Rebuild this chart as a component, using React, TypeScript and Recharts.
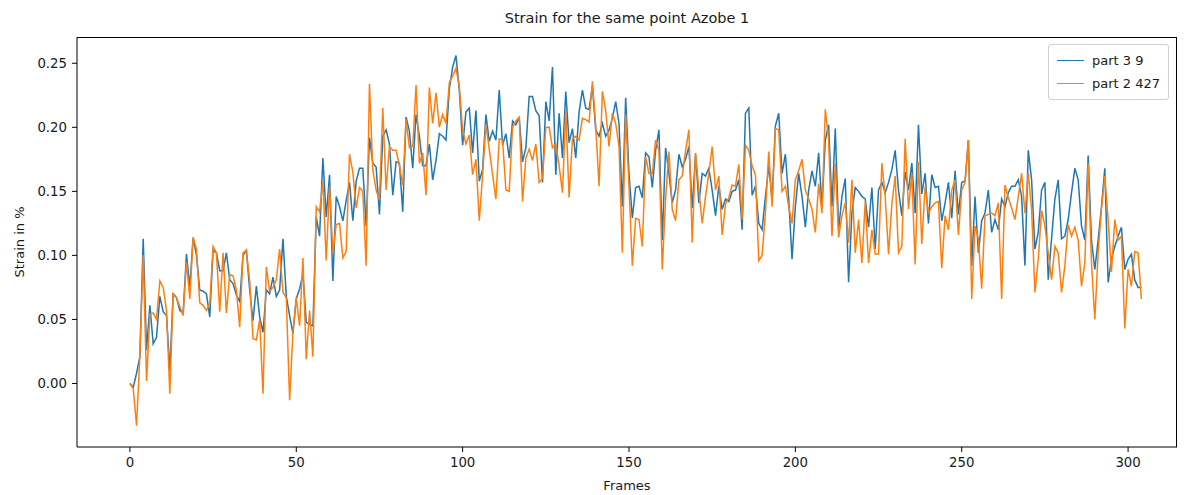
import React from "react";
import { LineChart, Line, XAxis, YAxis } from "recharts";

// strain per frame
const part39 = [
  0.0, -0.003, 0.008, 0.021, 0.113, 0.026, 0.061, 0.031, 0.036, 0.068,
  0.056, 0.053, 0.01, 0.07, 0.067, 0.057, 0.055, 0.101, 0.075, 0.114,
  0.1, 0.073, 0.072, 0.07, 0.052, 0.104, 0.102, 0.088, 0.088, 0.102,
  0.081, 0.078, 0.069, 0.064, 0.1, 0.104, 0.073, 0.049, 0.076, 0.052,
  0.04, 0.073, 0.07, 0.083, 0.068, 0.073, 0.113, 0.068, 0.053, 0.039,
  0.066, 0.074, 0.085, 0.048, 0.046, 0.045, 0.13, 0.115, 0.176, 0.13,
  0.163, 0.08, 0.146, 0.138, 0.127, 0.143, 0.157, 0.127, 0.158, 0.168,
  0.168, 0.123, 0.192, 0.172, 0.169, 0.132, 0.193, 0.198, 0.187, 0.147,
  0.173, 0.172, 0.134, 0.208, 0.197, 0.168, 0.21, 0.193, 0.17, 0.17,
  0.187, 0.159, 0.174, 0.195, 0.193, 0.19, 0.23, 0.247, 0.256, 0.229,
  0.186, 0.212, 0.215, 0.18, 0.213, 0.158, 0.167, 0.21, 0.189, 0.197,
  0.19, 0.229, 0.186, 0.195, 0.176, 0.205, 0.202, 0.208, 0.173, 0.184,
  0.224, 0.224, 0.213, 0.209, 0.157, 0.22, 0.205, 0.247, 0.163, 0.211,
  0.176, 0.228, 0.188, 0.199, 0.176, 0.212, 0.229, 0.215, 0.214, 0.232,
  0.198, 0.193, 0.203, 0.193, 0.198, 0.207, 0.22, 0.203, 0.138, 0.223,
  0.164, 0.129, 0.153, 0.154, 0.145, 0.18, 0.177, 0.153, 0.182, 0.198,
  0.112, 0.184, 0.164, 0.141, 0.151, 0.179, 0.169, 0.175, 0.185, 0.137,
  0.179, 0.141, 0.164, 0.162, 0.168, 0.151, 0.131, 0.154, 0.136, 0.144,
  0.142, 0.15, 0.151, 0.159, 0.12, 0.211, 0.215, 0.147, 0.154, 0.125,
  0.12, 0.146, 0.17, 0.144, 0.201, 0.211, 0.164, 0.179, 0.144, 0.097,
  0.138, 0.164, 0.146, 0.122, 0.151, 0.166, 0.154, 0.18, 0.138, 0.19,
  0.202, 0.138, 0.199, 0.12, 0.146, 0.16, 0.079, 0.133, 0.153, 0.15,
  0.146, 0.144, 0.122, 0.153, 0.105, 0.151, 0.157, 0.149, 0.157, 0.167,
  0.182, 0.151, 0.131, 0.165, 0.151, 0.172, 0.133, 0.202, 0.148, 0.164,
  0.125, 0.163, 0.153, 0.154, 0.127, 0.141, 0.157, 0.129, 0.166, 0.132,
  0.157, 0.158, 0.19, 0.092, 0.146, 0.102, 0.127, 0.133, 0.151, 0.118,
  0.128, 0.12, 0.144, 0.138, 0.149, 0.154, 0.154, 0.159, 0.146, 0.092,
  0.182, 0.159, 0.105, 0.118, 0.151, 0.157, 0.081, 0.113, 0.144, 0.159,
  0.113, 0.115, 0.128, 0.149, 0.168, 0.159, 0.123, 0.112, 0.178, 0.112,
  0.089, 0.112, 0.138, 0.168, 0.079, 0.097, 0.107, 0.115, 0.122, 0.089,
  0.097, 0.101, 0.081, 0.075, 0.075,
];

const part2427 = [
  0.0, -0.004, -0.033, 0.022, 0.1, 0.002, 0.054, 0.055, 0.05, 0.08,
  0.075, 0.057, -0.008, 0.07, 0.067, 0.06, 0.053, 0.095, 0.066, 0.114,
  0.105, 0.063, 0.061, 0.057, 0.062, 0.107, 0.102, 0.056, 0.102, 0.055,
  0.085, 0.084, 0.073, 0.044, 0.102, 0.104, 0.08, 0.035, 0.034, 0.05,
  -0.008, 0.091, 0.072, 0.075, 0.081, 0.105, 0.071, 0.067, -0.013, 0.04,
  0.067, 0.045, 0.098, 0.019, 0.057, 0.021, 0.138, 0.134, 0.158, 0.096,
  0.154, 0.102, 0.124, 0.125, 0.098, 0.103, 0.179, 0.165, 0.137, 0.153,
  0.15, 0.092, 0.234, 0.167, 0.151, 0.143, 0.215, 0.151, 0.185, 0.182,
  0.182, 0.17, 0.155, 0.206, 0.184, 0.185, 0.233, 0.172, 0.18, 0.147,
  0.231, 0.203, 0.227, 0.2, 0.21, 0.203, 0.235, 0.24, 0.246, 0.232,
  0.198, 0.187, 0.194, 0.163, 0.175, 0.127, 0.163, 0.202, 0.183, 0.163,
  0.144, 0.191, 0.19, 0.151, 0.15, 0.2, 0.205, 0.208, 0.142, 0.176,
  0.183, 0.174, 0.187, 0.157, 0.16, 0.2, 0.2, 0.184, 0.187, 0.17,
  0.149, 0.213, 0.145, 0.191, 0.193, 0.19, 0.207, 0.206, 0.204, 0.236,
  0.201, 0.154, 0.228, 0.213, 0.185, 0.211, 0.203, 0.185, 0.102, 0.21,
  0.154, 0.092, 0.129, 0.128, 0.107, 0.177, 0.164, 0.164, 0.19, 0.182,
  0.089, 0.144, 0.181, 0.136, 0.127, 0.159, 0.162, 0.182, 0.198, 0.11,
  0.18, 0.151, 0.125, 0.146, 0.164, 0.185, 0.151, 0.162, 0.116, 0.14,
  0.145, 0.155, 0.154, 0.171, 0.128, 0.186, 0.182, 0.17, 0.163, 0.096,
  0.1, 0.133, 0.181, 0.138, 0.199, 0.198, 0.15, 0.154, 0.138, 0.125,
  0.159, 0.166, 0.175, 0.151, 0.144, 0.136, 0.118, 0.156, 0.133, 0.214,
  0.19, 0.115, 0.172, 0.114, 0.131, 0.141, 0.11, 0.159, 0.102, 0.128,
  0.094, 0.142, 0.094, 0.12, 0.101, 0.101, 0.172, 0.146, 0.101, 0.14,
  0.162, 0.102, 0.107, 0.191, 0.136, 0.164, 0.093, 0.173, 0.109, 0.154,
  0.133, 0.138, 0.141, 0.142, 0.09, 0.131, 0.12, 0.151, 0.159, 0.116,
  0.151, 0.157, 0.19, 0.066, 0.123, 0.113, 0.074, 0.131, 0.132, 0.133,
  0.131, 0.141, 0.066, 0.155, 0.145, 0.137, 0.128, 0.146, 0.164, 0.133,
  0.164, 0.136, 0.071, 0.097, 0.135, 0.123, 0.102, 0.081, 0.107, 0.102,
  0.071, 0.092, 0.124, 0.115, 0.122, 0.112, 0.076, 0.094, 0.172, 0.094,
  0.05, 0.102, 0.136, 0.162, 0.128, 0.087, 0.128, 0.112, 0.115, 0.043,
  0.089, 0.076, 0.103, 0.102, 0.066,
];

const xTicks = [0, 50, 100, 150, 200, 250, 300];
const yTicks = [0, 0.05, 0.1, 0.15, 0.2, 0.25];
const seriesNames = ["part 3 9", "part 2 427"];

const data = part39.map((v, i) => ({ frame: i, a: v, b: part2427[i] }));

const FONT = "DejaVu Sans, sans-serif";
const BLUE = "#1f77b4";
const ORANGE = "#ff7f0e";

// plot box in page pixels
const PLOT = { left: 77, top: 37, right: 1177, bottom: 447 };

function LegendBox() {
  const colors = [BLUE, ORANGE];
  return (
    <div
      style={{
        position: "absolute",
        left: 1048,
        top: 44,
        border: "1px solid #d0d0d0",
        borderRadius: 3,
        background: "rgba(255,255,255,0.8)",
        padding: "4px 8px 4px 8px",
        fontSize: 13,
        lineHeight: "23px",
      }}
    >
      {seriesNames.map((name, i) => (
        <div key={name} style={{ display: "flex", alignItems: "center" }}>
          <span
            style={{
              display: "inline-block",
              width: 27,
              height: 0,
              borderTop: `1.5px solid ${colors[i]}`,
              marginRight: 8,
            }}
          />
          {name}
        </div>
      ))}
    </div>
  );
}

export default function App() {
  return (
    <div
      style={{
        position: "absolute",
        left: 0,
        top: 0,
        width: 1190,
        height: 495,
        background: "#fff",
        fontFamily: FONT,
        color: "#1a1a1a",
      }}
    >
      <div
        style={{
          position: "absolute",
          left: 627,
          top: 10,
          transform: "translateX(-50%)",
          fontSize: 14.5,
          whiteSpace: "nowrap",
        }}
      >
        Strain for the same point Azobe 1
      </div>
      <div
        style={{
          position: "absolute",
          left: 627,
          top: 478,
          transform: "translateX(-50%)",
          fontSize: 13,
        }}
      >
        Frames
      </div>
      <div
        style={{
          position: "absolute",
          left: 19,
          top: 242,
          transform: "translate(-50%, -50%) rotate(-90deg)",
          fontSize: 13,
          whiteSpace: "nowrap",
        }}
      >
        Strain in %
      </div>
      <div style={{ position: "absolute", left: 0, top: 0 }}>
        <LineChart
          width={1190}
          height={495}
          data={data}
          margin={{ top: PLOT.top, right: 1190 - PLOT.right, bottom: 18, left: PLOT.left - 60 }}
        >
          <XAxis
            dataKey="frame"
            type="number"
            domain={[-15.9, 314.7]}
            ticks={xTicks}
            height={30}
            tickSize={5}
            tickMargin={6}
            stroke="#000"
            tick={{ fill: "#1a1a1a", fontSize: 13.3, fontFamily: FONT }}
          />
          <YAxis
            type="number"
            domain={[-0.0496, 0.2705]}
            ticks={yTicks}
            width={60}
            tickSize={5}
            tickMargin={5}
            stroke="#000"
            tickFormatter={(v: number) => v.toFixed(2)}
            tick={{ fill: "#1a1a1a", fontSize: 13.3, fontFamily: FONT }}
          />
          <Line
            dataKey="a"
            name={seriesNames[0]}
            stroke={BLUE}
            strokeWidth={1.5}
            dot={false}
            isAnimationActive={false}
          />
          <Line
            dataKey="b"
            name={seriesNames[1]}
            stroke={ORANGE}
            strokeWidth={1.5}
            dot={false}
            isAnimationActive={false}
          />
        </LineChart>
      </div>
      {/* axes frame: top and right spines */}
      <div
        style={{
          position: "absolute",
          left: PLOT.left,
          top: PLOT.top,
          width: PLOT.right - PLOT.left,
          height: PLOT.bottom - PLOT.top,
          boxSizing: "border-box",
          borderTop: "1px solid #000",
          borderRight: "1px solid #000",
          pointerEvents: "none",
        }}
      />
      <LegendBox />
    </div>
  );
}
